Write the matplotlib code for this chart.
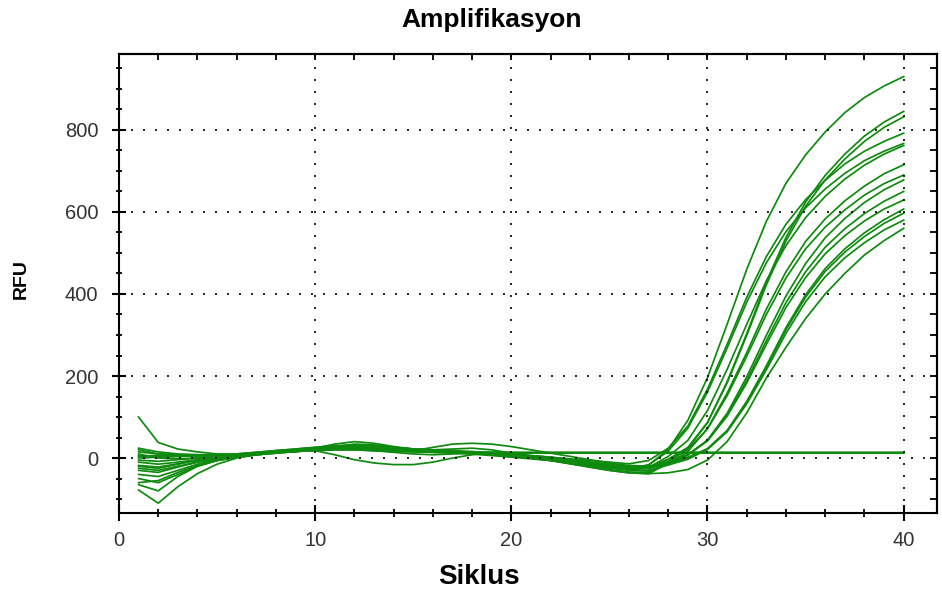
import matplotlib
matplotlib.use('Agg')
import matplotlib.pyplot as plt
from matplotlib.ticker import MultipleLocator, NullFormatter

plt.rcParams['font.family'] = ['Liberation Sans', 'DejaVu Sans']

# cycle numbers and RFU readings per well
cycles = [1, 2, 3, 4, 5, 6, 7, 8, 9, 10, 11, 12, 13, 14, 15, 16, 17, 18, 19, 20,
          21, 22, 23, 24, 25, 26, 27, 28, 29, 30, 31, 32, 33, 34, 35, 36, 37, 38, 39, 40]

rfu_01 = [20, 10, 8, 6, 6, 8, 12, 18, 22, 26, 30, 28, 24, 20, 18, 16, 14, 12, 10, 6,
          2, -4, -10, -16, -22, -26, -17, 21, 92, 196, 326, 460, 577, 670, 739, 795, 842, 879, 907, 930]
rfu_02 = [-10, -15, -10, -4, 2, 6, 10, 16, 20, 24, 34, 40, 36, 28, 22, 20, 22, 24, 20, 12,
          4, -4, -12, -20, -28, -34, -36, -10, 23, 86, 186, 303, 429, 538, 624, 689, 741, 785, 819, 845]
rfu_03 = [10, 0, -2, 0, 4, 8, 12, 16, 20, 22, 26, 30, 28, 24, 20, 18, 16, 14, 12, 8,
          4, 0, -6, -12, -18, -22, -24, -3, 26, 87, 183, 299, 422, 529, 614, 678, 729, 772, 806, 832]
rfu_04 = [100, 38, 22, 15, 10, 8, 10, 14, 18, 20, 24, 26, 24, 20, 18, 16, 14, 12, 10, 8,
          5, 2, -2, -6, -10, -14, -6, 24, 78, 168, 277, 392, 491, 570, 630, 677, 717, 748, 772, 792]
rfu_05 = [-25, -30, -20, -10, -2, 4, 10, 14, 18, 22, 26, 26, 22, 18, 16, 14, 12, 10, 8, 4,
          0, -4, -8, -14, -20, -24, -17, 17, 73, 161, 268, 380, 476, 552, 610, 656, 694, 725, 748, 767]
rfu_06 = [24, 15, 10, 8, 6, 6, 8, 12, 16, 20, 24, 28, 30, 26, 22, 20, 18, 16, 12, 8,
          4, -2, -8, -14, -20, -25, -23, 4, 43, 116, 216, 326, 432, 518, 586, 638, 680, 714, 741, 762]
rfu_07 = [-60, -55, -35, -18, -6, 2, 8, 12, 16, 20, 26, 30, 28, 24, 20, 18, 16, 14, 10, 6,
          0, -6, -14, -22, -30, -36, -38, -13, 16, 72, 158, 257, 363, 454, 528, 583, 627, 663, 693, 715]
rfu_08 = [-40, -45, -30, -15, -4, 4, 10, 16, 20, 22, 24, 22, 18, 14, 10, 8, 10, 12, 12, 10,
          6, 2, -4, -10, -16, -20, -22, -4, 21, 71, 152, 248, 350, 439, 510, 563, 605, 641, 669, 690]
rfu_09 = [-50, -60, -40, -20, -6, 2, 8, 14, 18, 20, 22, 24, 24, 22, 20, 18, 16, 12, 8, 4,
          0, -6, -12, -18, -24, -30, -32, -14, 7, 44, 109, 198, 299, 395, 474, 537, 584, 623, 654, 678]
rfu_10 = [-30, -35, -22, -10, 0, 6, 12, 16, 20, 22, 24, 24, 22, 20, 18, 16, 14, 12, 8, 4,
          0, -4, -10, -16, -20, -24, -26, -11, 8, 42, 105, 189, 286, 379, 454, 514, 559, 596, 626, 650]
rfu_11 = [5, 4, 4, 5, 6, 8, 10, 14, 16, 18, 20, 20, 18, 16, 18, 26, 34, 36, 34, 28,
          20, 12, 4, -4, -12, -20, -22, -9, 9, 42, 102, 183, 277, 367, 440, 498, 542, 578, 607, 629]
rfu_12 = [-18, -22, -14, -6, 0, 6, 10, 14, 16, 20, 28, 34, 32, 26, 20, 16, 14, 12, 10, 6,
          2, -2, -8, -14, -18, -22, -24, -13, 0, 23, 67, 138, 225, 318, 398, 462, 510, 549, 581, 607]
rfu_13 = [0, 2, 4, 6, 8, 10, 14, 18, 20, 18, 8, -4, -12, -16, -16, -10, 0, 8, 12, 10,
          6, 2, -4, -10, -14, -18, -20, -11, 2, 22, 66, 136, 221, 313, 392, 455, 502, 540, 572, 597]
rfu_14 = [-78, -110, -70, -38, -15, 0, 8, 14, 18, 22, 28, 32, 30, 26, 22, 18, 14, 10, 6, 2,
          -2, -6, -12, -18, -24, -28, -30, -17, -3, 21, 64, 132, 215, 304, 381, 442, 488, 525, 556, 580]
rfu_15 = [-65, -80, -45, -20, -6, 2, 8, 12, 16, 20, 24, 26, 24, 22, 20, 18, 16, 14, 10, 6,
          2, -6, -14, -22, -30, -36, -38, -36, -28, -5, 40, 110, 195, 270, 340, 400, 450, 495, 530, 560]
# wells without amplification
rfu_16 = [5, 6, 6, 7, 8, 10, 12, 14, 16, 18, 20, 20, 18, 16, 15, 14, 14, 14, 13, 13,
          13, 13, 13, 13, 13, 13, 13, 13, 13, 13, 13, 13, 13, 13, 13, 13, 13, 13, 13, 13]
rfu_17 = [-5, -8, -4, 0, 4, 8, 12, 16, 20, 24, 26, 26, 24, 20, 18, 16, 15, 14, 14, 13,
          12, 12, 12, 12, 12, 12, 12, 12, 12, 12, 12, 12, 12, 12, 12, 12, 12, 12, 12, 12]
rfu_18 = [15, 10, 8, 8, 8, 10, 14, 18, 22, 26, 30, 32, 30, 26, 22, 18, 16, 14, 13, 12,
          12, 12, 12, 12, 12, 12, 12, 12, 12, 12, 12, 12, 12, 12, 12, 12, 12, 12, 12, 12]
rfu_19 = [-20, -25, -15, -5, 2, 6, 10, 14, 18, 20, 22, 22, 20, 18, 16, 15, 14, 14, 14, 14,
          14, 14, 14, 14, 14, 14, 14, 14, 14, 14, 14, 14, 14, 14, 14, 14, 14, 14, 14, 14]

wells = [rfu_01, rfu_02, rfu_03, rfu_04, rfu_05, rfu_06, rfu_07, rfu_08, rfu_09, rfu_10,
         rfu_11, rfu_12, rfu_13, rfu_14, rfu_15, rfu_16, rfu_17, rfu_18, rfu_19]

fig = plt.figure(figsize=(9.42, 5.95), dpi=100)
ax = fig.add_axes([0.1263, 0.1378, 0.8684, 0.7714])

for rfu in wells:
    ax.plot(cycles, rfu, color='#0e8a0e', lw=1.25, zorder=2)

ax.set_xlim(0, 41.7)
ax.set_ylim(-134, 985)

ax.xaxis.set_major_locator(MultipleLocator(10))
ax.xaxis.set_minor_locator(MultipleLocator(2))
ax.yaxis.set_major_locator(MultipleLocator(200))
ax.yaxis.set_minor_locator(MultipleLocator(50))

# dotted grid sits over the curves
ax.set_axisbelow(False)
ax.grid(which='major', color='black', linestyle=(0, (1.2, 6)), lw=1.2)

ax.tick_params(axis='x', which='major', direction='inout', length=12, width=1.5,
               labelsize=14.5, labelcolor='#333333', pad=7)
ax.tick_params(axis='x', which='minor', direction='inout', length=6, width=1.3)
ax.tick_params(axis='y', which='major', direction='inout', length=10, width=1.5,
               labelsize=14.5, labelcolor='#333333', pad=10)
ax.tick_params(axis='y', which='minor', direction='inout', length=5, width=1.3)

for sp in ax.spines.values():
    sp.set_linewidth(1.5)
    sp.set_color('black')

# short inward ticks along the top and right edges
top = ax.secondary_xaxis('top')
top.xaxis.set_major_locator(MultipleLocator(2))
top.xaxis.set_major_formatter(NullFormatter())
top.tick_params(direction='in', length=4, width=1.3)
top.spines['top'].set_linewidth(1.5)

right = ax.secondary_yaxis('right')
right.yaxis.set_major_locator(MultipleLocator(50))
right.yaxis.set_major_formatter(NullFormatter())
right.tick_params(direction='in', length=5, width=1.3)
right.spines['right'].set_linewidth(1.5)

fig.text(0.522, 1 - 20 / 595, 'Amplifikasyon', ha='center', va='center',
         fontsize=19, fontweight='bold')
fig.text(0.5085, 1 - 577 / 595, 'Siklus', ha='center', va='center',
         fontsize=20, fontweight='bold')
fig.text(0.0223, 1 - 279 / 595, 'RFU', ha='center', va='center', rotation=90,
         fontsize=14, fontweight='bold')

fig.savefig('out.png', dpi=100)
